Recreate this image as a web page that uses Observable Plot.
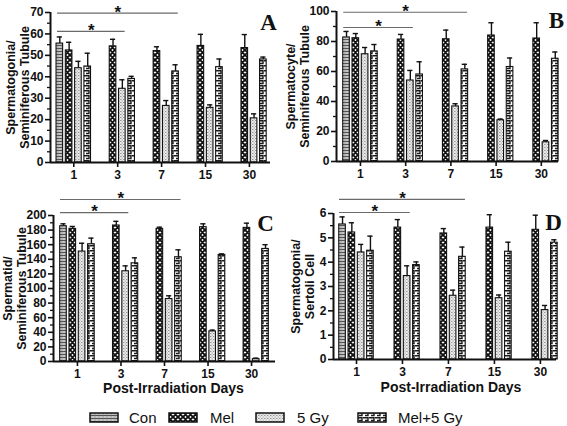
<!DOCTYPE html>
<html><head><meta charset="utf-8">
<script src="https://cdn.jsdelivr.net/npm/d3@7"></script>
<script src="https://cdn.jsdelivr.net/npm/@observablehq/plot@0.6"></script>
<style>
body{margin:0;background:#fff;}
#fig{position:relative;width:567px;height:426px;overflow:hidden;background:#fff;font-family:"Liberation Sans",Arial,sans-serif;}
.panel{position:absolute;}
.panel svg{overflow:visible;display:block;}
.lg{position:absolute;font-size:15px;color:#111;line-height:15px;}
.sw{position:absolute;}
</style></head><body>
<svg width="0" height="0" style="position:absolute">
<defs>
<pattern id="pCon" patternUnits="userSpaceOnUse" width="4" height="3">
<rect width="4" height="3" fill="#c6c6c6"/>
<path d="M0,0.5H4" stroke="#444" stroke-width="0.9"/>
<path d="M2,0.5V3" stroke="#888" stroke-width="0.6"/>
</pattern>
<pattern id="pMel" patternUnits="userSpaceOnUse" width="5" height="5">
<rect width="5" height="5" fill="#fff"/>
<path d="M0,0L5,5M5,0L0,5M-1,4L1,6M4,-1L6,1M-1,1L1,-1M4,6L6,4" stroke="#111" stroke-width="1.9"/>
</pattern>
<pattern id="pGy" patternUnits="userSpaceOnUse" width="3" height="3">
<rect width="3" height="3" fill="#ececec"/>
<rect x="0" y="0" width="1.5" height="1" fill="#979797"/>
<rect x="1.5" y="1.5" width="1.5" height="1" fill="#b0b0b0"/>
</pattern>
<pattern id="pMG" patternUnits="userSpaceOnUse" width="6" height="5">
<rect width="6" height="5" fill="#fff"/>
<path d="M0,0.7H5V3.5H2" fill="none" stroke="#1a1a1a" stroke-width="1.4"/>
</pattern>
</defs>
</svg>
<div id="fig"></div>
<script>
// ---------- data ----------
const days = ["1", "3", "7", "15", "30"];
const groups = ["Con", "Mel", "5 Gy", "Mel+5 Gy"];

// Panel A: Spermatogonia / Seminiferous Tubule
const aCon = [55.5, null, null, null, null];
const aConErr = [3.1, null, null, null, null];
const aMel = [52.3, 54.2, 52.0, 54.4, 53.4];
const aMelErr = [3.8, 3.3, 2.0, 5.4, 6.3];
const aGy = [44.0, 34.4, 26.4, 25.5, 20.6];
const aGyErr = [3.2, 4.2, 2.5, 1.4, 2.1];
const aMelGy = [44.8, 39.0, 42.5, 44.5, 48.1];
const aMelGyErr = [6.2, 1.2, 3.1, 3.8, 1.1];

// Panel B: Spermatocyte / Seminiferous Tubule
const bCon = [82.7, null, null, null, null];
const bConErr = [4.0, null, null, null, null];
const bMel = [82.2, 81.3, 81.5, 84.0, 82.0];
const bMelErr = [3.1, 3.4, 6.1, 8.5, 10.5];
const bGy = [71.5, 54.0, 36.7, 27.5, 12.8];
const bGyErr = [4.5, 6.7, 1.8, 0.8, 1.2];
const bMelGy = [73.4, 58.0, 61.4, 63.0, 68.5];
const bMelGyErr = [4.6, 8.5, 3.4, 6.0, 4.5];

// Panel C: Spermatid / Seminiferous Tubule
const cCon = [185.3, null, null, null, null];
const cConErr = [3.3, null, null, null, null];
const cMel = [181.7, 186.3, 181.7, 184.0, 183.0];
const cMelErr = [3.3, 5.7, 2.3, 4.6, 6.5];
const cGy = [150.6, 123.6, 85.6, 41.2, 3.2];
const cGyErr = [11.4, 7.4, 4.4, 1.8, 1.4];
const cMelGy = [160.6, 134.5, 142.8, 146.0, 154.2];
const cMelGyErr = [8.4, 7.5, 10.2, 1.4, 5.8];

// Panel D: Spermatogonia / Sertoli Cell
const dCon = [5.55, null, null, null, null];
const dConErr = [0.31, null, null, null, null];
const dMel = [5.22, 5.42, 5.18, 5.42, 5.33];
const dMelErr = [0.40, 0.33, 0.20, 0.53, 0.60];
const dGy = [4.40, 3.43, 2.62, 2.52, 2.03];
const dGyErr = [0.33, 0.42, 0.23, 0.13, 0.19];
const dMelGy = [4.47, 3.88, 4.22, 4.43, 4.80];
const dMelGyErr = [0.60, 0.13, 0.40, 0.39, 0.12];

// axis ticks
const aTicks = [0, 10, 20, 30, 40, 50, 60, 70];
const aMinor = [5, 15, 25, 35, 45, 55, 65];
const bTicks = [0, 20, 40, 60, 80, 100];
const bMinor = [10, 30, 50, 70, 90];
const cTicks = [0, 20, 40, 60, 80, 100, 120, 140, 160, 180, 200];
const cMinor = [10, 30, 50, 70, 90, 110, 130, 150, 170, 190];
const dTicks = [0, 1, 2, 3, 4, 5, 6];
const dMinor = [0.5, 1.5, 2.5, 3.5, 4.5, 5.5];

// significance brackets (x in day-index units, y in data units)
const aSig = [{x1: -0.37, x2: 2.38, y: 69.7}, {x1: -0.37, x2: 1.17, y: 61.2}];
const bSig = [{x1: -0.37, x2: 2.37, y: 99.5}, {x1: -0.37, x2: 1.17, y: 89.3}];
const cSig = [{x1: -0.39, x2: 2.38, y: 222}, {x1: -0.39, x2: 1.18, y: 204}];
const dSig = [{x1: -0.37, x2: 2.37, y: 6.58}, {x1: -0.37, x2: 1.17, y: 6.04}];

const patterns = ["url(#pCon)", "url(#pMel)", "url(#pGy)", "url(#pMG)"];

function rowsOf(means, errs) {
  const out = [];
  means.forEach((m, gi) => m.forEach((v, i) => {
    if (v != null) out.push({g: groups[gi], gi, i, day: days[i], mean: v, err: errs[gi][i]});
  }));
  return out;
}

function panel(cfg) {
  const rows = rowsOf(cfg.means, cfg.errs);
  const pxPerUnit = (cfg.width - cfg.ml - cfg.mr) / (cfg.xDomain[1] - cfg.xDomain[0]);
  const slot = 9.3 / pxPerUnit, hw = 3.3 / pxPerUnit, cap = 2.6 / pxPerUnit;
  const cx = d => d.i + (d.gi - 1.5) * slot;
  const marks = [
    Plot.rectY(rows, {x1: d => cx(d) - hw, x2: d => cx(d) + hw, y: "mean", fill: "g", stroke: "#111", strokeWidth: 1.1}),
    Plot.ruleX(rows, {x: cx, y1: "mean", y2: d => d.mean + d.err, stroke: "#111", strokeWidth: 1.4}),
    Plot.ruleY(rows, {y: d => d.mean + d.err, x1: d => cx(d) - cap, x2: d => cx(d) + cap, stroke: "#111", strokeWidth: 1.4}),
    Plot.ruleY([0], {stroke: "#111", strokeWidth: 2}),
    Plot.ruleX([cfg.xDomain[0]], {y1: 0, y2: cfg.yMax, stroke: "#111", strokeWidth: 2}),
    Plot.axisY({ticks: cfg.yTicks, tickFormat: d => String(d), tickSize: 5, tickPadding: 2, strokeWidth: 1.6, label: null, fontSize: 12, fontWeight: "bold"}),
    Plot.axisY({ticks: cfg.yMinor, tickSize: 3, strokeWidth: 1.3, tickFormat: () => "", label: null}),
    Plot.axisX({ticks: [0, 1, 2, 3, 4], tickFormat: i => days[i], tickSize: 5, tickPadding: 3, strokeWidth: 1.6, label: null, fontSize: 12, fontWeight: "bold"}),
    Plot.ruleY(cfg.sig, {y: "y", x1: "x1", x2: "x2", stroke: "#6a6a6a", strokeWidth: 1.1}),
    Plot.text(cfg.sig, {x: d => (d.x1 + d.x2) / 2, y: "y", text: () => "*", fontSize: 17, fontWeight: "bold", dy: -1, lineAnchor: "middle", fill: "#111"}),
    Plot.text([cfg.ylabel], {frameAnchor: "left", text: d => d, rotate: -90, dx: cfg.ylx - cfg.ml, lineAnchor: "middle", textAnchor: "middle", fontSize: 12.5, fontWeight: "bold", lineHeight: 1.13, fill: "#111"}),
    Plot.text([cfg.letter], {frameAnchor: "top-right", text: d => d, dx: cfg.ldx, dy: cfg.ldy, textAnchor: "middle", lineAnchor: "middle", fontSize: 23, fontWeight: "bold", fontFamily: "Liberation Serif", fill: "#111"})
  ];
  if (cfg.xlabel) marks.push(Plot.text([cfg.xlabel], {frameAnchor: "bottom", text: d => d, dx: cfg.xldx, dy: cfg.xldy, lineAnchor: "middle", fontSize: 14, fontWeight: "bold", fill: "#111"}));
  const svg = Plot.plot({
    width: cfg.width, height: cfg.height,
    marginLeft: cfg.ml, marginRight: cfg.mr, marginTop: cfg.mt, marginBottom: cfg.mb,
    x: {domain: cfg.xDomain},
    y: {domain: [0, cfg.yMax]},
    color: {type: "ordinal", domain: groups, range: patterns},
    style: {fontFamily: "Liberation Sans", fontSize: "12px", fontWeight: "bold", color: "#111", background: "transparent", overflow: "visible"},
    marks
  });
  const div = document.createElement("div");
  div.className = "panel";
  div.style.left = cfg.left + "px";
  div.style.top = cfg.top + "px";
  div.appendChild(svg);
  document.getElementById("fig").appendChild(div);
}

panel({left: 0, top: 0, width: 283, height: 195, ml: 50, mr: 13, mt: 12, mb: 33,
  xDomain: [-0.53, 4.48], yMax: 70, yTicks: aTicks, yMinor: aMinor,
  means: [aCon, aMel, aGy, aMelGy], errs: [aConErr, aMelErr, aGyErr, aMelGyErr],
  sig: aSig, ylabel: "Spermatogonia/\nSeminiferous Tubule", ylx: 17, letter: "A", ldx: -2, ldy: 10});
panel({left: 283, top: 0, width: 284, height: 195, ml: 53, mr: 9, mt: 11, mb: 34,
  xDomain: [-0.53, 4.38], yMax: 100, yTicks: bTicks, yMinor: bMinor,
  means: [bCon, bMel, bGy, bMelGy], errs: [bConErr, bMelErr, bGyErr, bMelGyErr],
  sig: bSig, ylabel: "Spermatocyte/\nSeminiferous Tubule", ylx: 14, letter: "B", ldx: -2, ldy: 9});
panel({left: 0, top: 195, width: 283, height: 205, ml: 53, mr: 8, mt: 20, mb: 39,
  xDomain: [-0.55, 4.55], yMax: 200, yTicks: cTicks, yMinor: cMinor,
  means: [cCon, cMel, cGy, cMelGy], errs: [cConErr, cMelErr, cGyErr, cMelGyErr],
  sig: cSig, ylabel: "Spermatid/\nSeminiferous Tubule", ylx: 14, letter: "C", ldx: -10, ldy: 8,
  xlabel: "Post-Irradiation Days", xldx: 9, xldy: 27});
panel({left: 283, top: 195, width: 284, height: 205, ml: 50, mr: 11, mt: 18, mb: 41,
  xDomain: [-0.5, 4.35], yMax: 6, yTicks: dTicks, yMinor: dMinor,
  means: [dCon, dMel, dGy, dMelGy], errs: [dConErr, dMelErr, dGyErr, dMelGyErr],
  sig: dSig, ylabel: "Spermatogonia/\nSertoli Cell", ylx: 19, letter: "D", ldx: -3, ldy: 9,
  xlabel: "Post-Irradiation Days", xldx: 6, xldy: 28});

// legend
const legSwatchX = [89, 168, 255, 357];
const legTextX = [129, 210, 297, 398];
const fig = document.getElementById("fig");
groups.forEach((g, k) => {
  const s = document.createElementNS("http://www.w3.org/2000/svg", "svg");
  s.setAttribute("width", 30); s.setAttribute("height", 11);
  s.setAttribute("class", "sw");
  s.style.left = legSwatchX[k] + "px"; s.style.top = "412px";
  s.innerHTML = `<rect x="1" y="1" width="28" height="9" fill="${patterns[k]}" stroke="#111" stroke-width="1.5"/>`;
  fig.appendChild(s);
  const t = document.createElement("div");
  t.className = "lg";
  t.style.left = legTextX[k] + "px"; t.style.top = "410px";
  t.textContent = g;
  fig.appendChild(t);
});
</script>
</body></html>
